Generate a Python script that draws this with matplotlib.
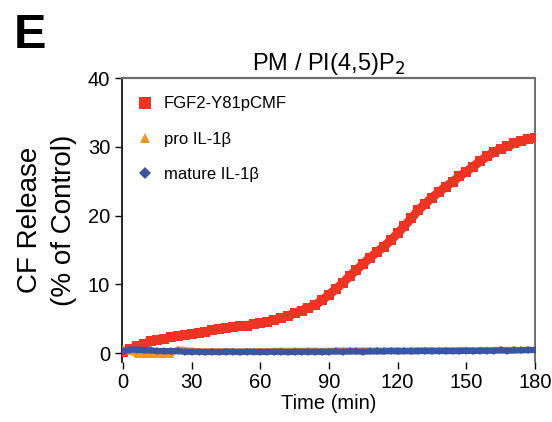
import matplotlib

matplotlib.use("Agg")
import matplotlib.pyplot as plt

plt.rcParams["font.family"] = ["Liberation Sans", "DejaVu Sans"]

# --- data (time in min, CF release in % of control) ---
TIME = list(range(0, 181, 3))

FGF2 = [0.2, 0.6, 1.0, 1.3, 1.7, 1.9, 2.1, 2.3, 2.5, 2.6,
        2.8, 3.0, 3.1, 3.3, 3.5, 3.6, 3.8, 3.9, 4.0, 4.2,
        4.4, 4.6, 4.8, 5.1, 5.4, 5.8, 6.2, 6.6, 7.0, 7.7,
        8.5, 9.3, 10.2, 11.2, 12.1, 13.0, 13.9, 14.7, 15.5, 16.4,
        17.4, 18.5, 19.6, 20.8, 21.7, 22.6, 23.4, 24.2, 24.9, 25.7,
        26.4, 27.1, 27.9, 28.6, 29.2, 29.7, 30.1, 30.5, 30.8, 31.1,
        31.3]

PRO_IL1B = [0.6, 0.2, -0.2, -0.3, -0.3, -0.3, -0.3, -0.2, 0.6, 0.5,
            0.4, 0.35, 0.3, 0.35, 0.3, 0.35, 0.3, 0.3, 0.35, 0.3,
            0.35, 0.3, 0.35, 0.4, 0.35, 0.4, 0.35, 0.4, 0.4, 0.35,
            0.4, 0.4, 0.45, 0.4, 0.4, 0.45, 0.4, 0.45, 0.4, 0.45,
            0.45, 0.4, 0.45, 0.45, 0.5, 0.45, 0.45, 0.5, 0.45, 0.5,
            0.5, 0.45, 0.5, 0.5, 0.5, 0.55, 0.5, 0.55, 0.5, 0.55,
            0.5]

MATURE_IL1B = [0.3, 0.5, 0.5, 0.4, 0.4, 0.3, 0.3, 0.3, 0.3, 0.2,
               0.2, 0.2, 0.15, 0.2, 0.15, 0.2, 0.2, 0.15, 0.2, 0.2,
               0.15, 0.2, 0.2, 0.2, 0.15, 0.2, 0.2, 0.2, 0.2, 0.2,
               0.2, 0.25, 0.2, 0.25, 0.25, 0.2, 0.25, 0.25, 0.25, 0.3,
               0.25, 0.3, 0.25, 0.3, 0.3, 0.3, 0.3, 0.3, 0.3, 0.3,
               0.35, 0.3, 0.35, 0.35, 0.35, 0.4, 0.35, 0.4, 0.4, 0.45,
               0.45]

RED = "#ee3524"
ORANGE = "#f7941d"
BLUE = "#3b55a5"

fig = plt.figure(figsize=(5.52, 4.22), dpi=100)
ax = fig.add_axes([0.221, 0.142, 0.748, 0.673])

ax.plot(TIME, FGF2, color=RED, lw=6.5, marker="s", ms=7, mew=0,
        solid_capstyle="butt", label="FGF2-Y81pCMF", zorder=3)
ax.plot(TIME, PRO_IL1B, color=ORANGE, lw=4, marker="^", ms=5, mew=0,
        label="pro IL-1\u03b2", zorder=3)
ax.plot(TIME, MATURE_IL1B, color=BLUE, lw=4.5, marker="D", ms=4.5, mew=0,
        label="mature IL-1\u03b2", zorder=3)

ax.set_xlim(-0.5, 180)
ax.set_ylim(-1.3, 40)
ax.set_xticks(range(0, 181, 30))
ax.set_yticks(range(0, 41, 10))
ax.tick_params(axis="both", labelsize=14.5, length=5, width=1.0, direction="out")
ax.tick_params(axis="x", pad=3)

ax.spines["bottom"].set_visible(False)
ax.spines["left"].set_color("black")
ax.spines["left"].set_linewidth(1.2)
ax.spines["top"].set_color("#6e6e6e")
ax.spines["top"].set_linewidth(1.6)
ax.spines["right"].set_color("#555555")
ax.spines["right"].set_linewidth(1.2)

ax.set_xlabel("Time (min)", fontsize=14.5, labelpad=1)
ax.set_ylabel("CF Release\n(% of Control)", fontsize=20, linespacing=1.38,
              labelpad=8)
ax.set_title("PM / PI(4,5)P$_2$", fontsize=17, pad=6)

leg = ax.legend(loc="upper left", frameon=False, fontsize=12,
                markerscale=1.3, handlelength=0.6, handletextpad=0.8,
                labelspacing=1.22, borderaxespad=0.7, borderpad=0.4)
for h in leg.legend_handles:
    h.set_linestyle("none")

fig.text(0.025, 0.915, "E", fontsize=35, fontweight="bold", ha="left",
         va="center")

fig.savefig("out.png", dpi=100)
